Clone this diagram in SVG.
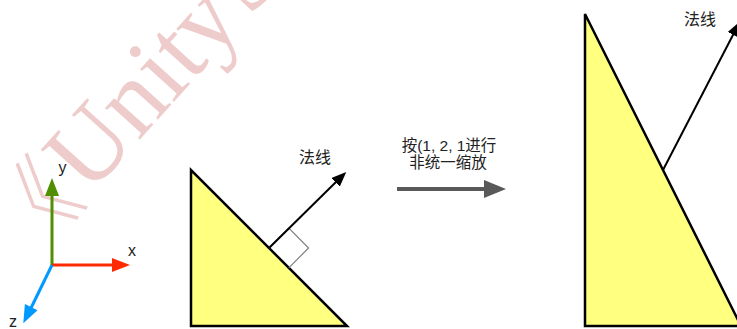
<svg xmlns="http://www.w3.org/2000/svg" width="737" height="329" viewBox="0 0 737 329">
<defs>
<style>
.lbl{font-family:"Liberation Sans","Noto Sans CJK SC",sans-serif;fill:#222;}
.tri{fill:#ffff80;stroke:#000;stroke-width:2.5;stroke-linejoin:miter;}
.nrm{stroke:#000;stroke-width:2;fill:none;}
.wm{font-family:"Liberation Serif","Noto Sans CJK SC",serif;fill:#efcccc;}
</style>
<marker id="ah" markerUnits="userSpaceOnUse" markerWidth="16" markerHeight="12" viewBox="0 0 16 12" refX="2" refY="6" orient="auto">
<path d="M0,0 L15,6 L0,12 Z" fill="#000"/>
</marker>
</defs>
<rect width="737" height="329" fill="#fff"/>
<g id="watermark">
<text class="wm" font-size="102" transform="translate(89,196) rotate(-48)"><tspan x="-95" font-size="90" font-weight="300">《</tspan><tspan x="0">Unity </tspan><tspan x="240">S</tspan></text>
</g>
<g id="axes">
<line x1="52" y1="265" x2="52" y2="195" stroke="#4f8f00" stroke-width="3"/>
<polygon points="52,178 45,196 59,196" fill="#4f8f00"/>
<line x1="52" y1="265" x2="113" y2="265" stroke="#ff2a00" stroke-width="3"/>
<polygon points="130,265 112,258 112,272" fill="#ff2a00"/>
<line x1="52" y1="265" x2="31" y2="308" stroke="#0099ff" stroke-width="3"/>
<polygon points="23.3,323.3 24.9,304.1 37.5,310.3" fill="#0099ff"/>
<text class="lbl" x="62.5" y="173" font-size="16" text-anchor="middle">y</text>
<text class="lbl" x="132" y="256" font-size="16" text-anchor="middle">x</text>
<text class="lbl" x="13" y="327" font-size="16" text-anchor="middle">z</text>
</g>
<g id="left-triangle">
<polygon class="tri" points="191,170 191,326 347,326"/>
<polyline points="269,248 288.8,228.2 308.6,248 288.8,267.8" fill="none" stroke="#808080" stroke-width="1.2"/>
<text class="lbl" x="315" y="163" font-size="16" text-anchor="middle">法线</text>
</g>
<g id="right-triangle">
<polygon class="tri" points="585,14 585,326 741,326"/>
<text class="lbl" x="700" y="25" font-size="16" text-anchor="middle">法线</text>
</g>
<g id="transform-label">
<text class="lbl" x="449" y="151" font-size="15.5" text-anchor="middle">按(1, 2, 1进行</text>
<text class="lbl" x="448" y="167.5" font-size="15.5" text-anchor="middle">非统一缩放</text>
</g>
<g id="connectors">
<line class="nrm" x1="269" y1="248" x2="337" y2="181" marker-end="url(#ah)"/>
<line class="nrm" x1="663" y1="170" x2="734" y2="33" marker-end="url(#ah)"/>
<line x1="397" y1="189" x2="486" y2="189" stroke="#595959" stroke-width="4"/>
<polygon points="506,189 484,180 484,198" fill="#595959"/>
</g>
</svg>
